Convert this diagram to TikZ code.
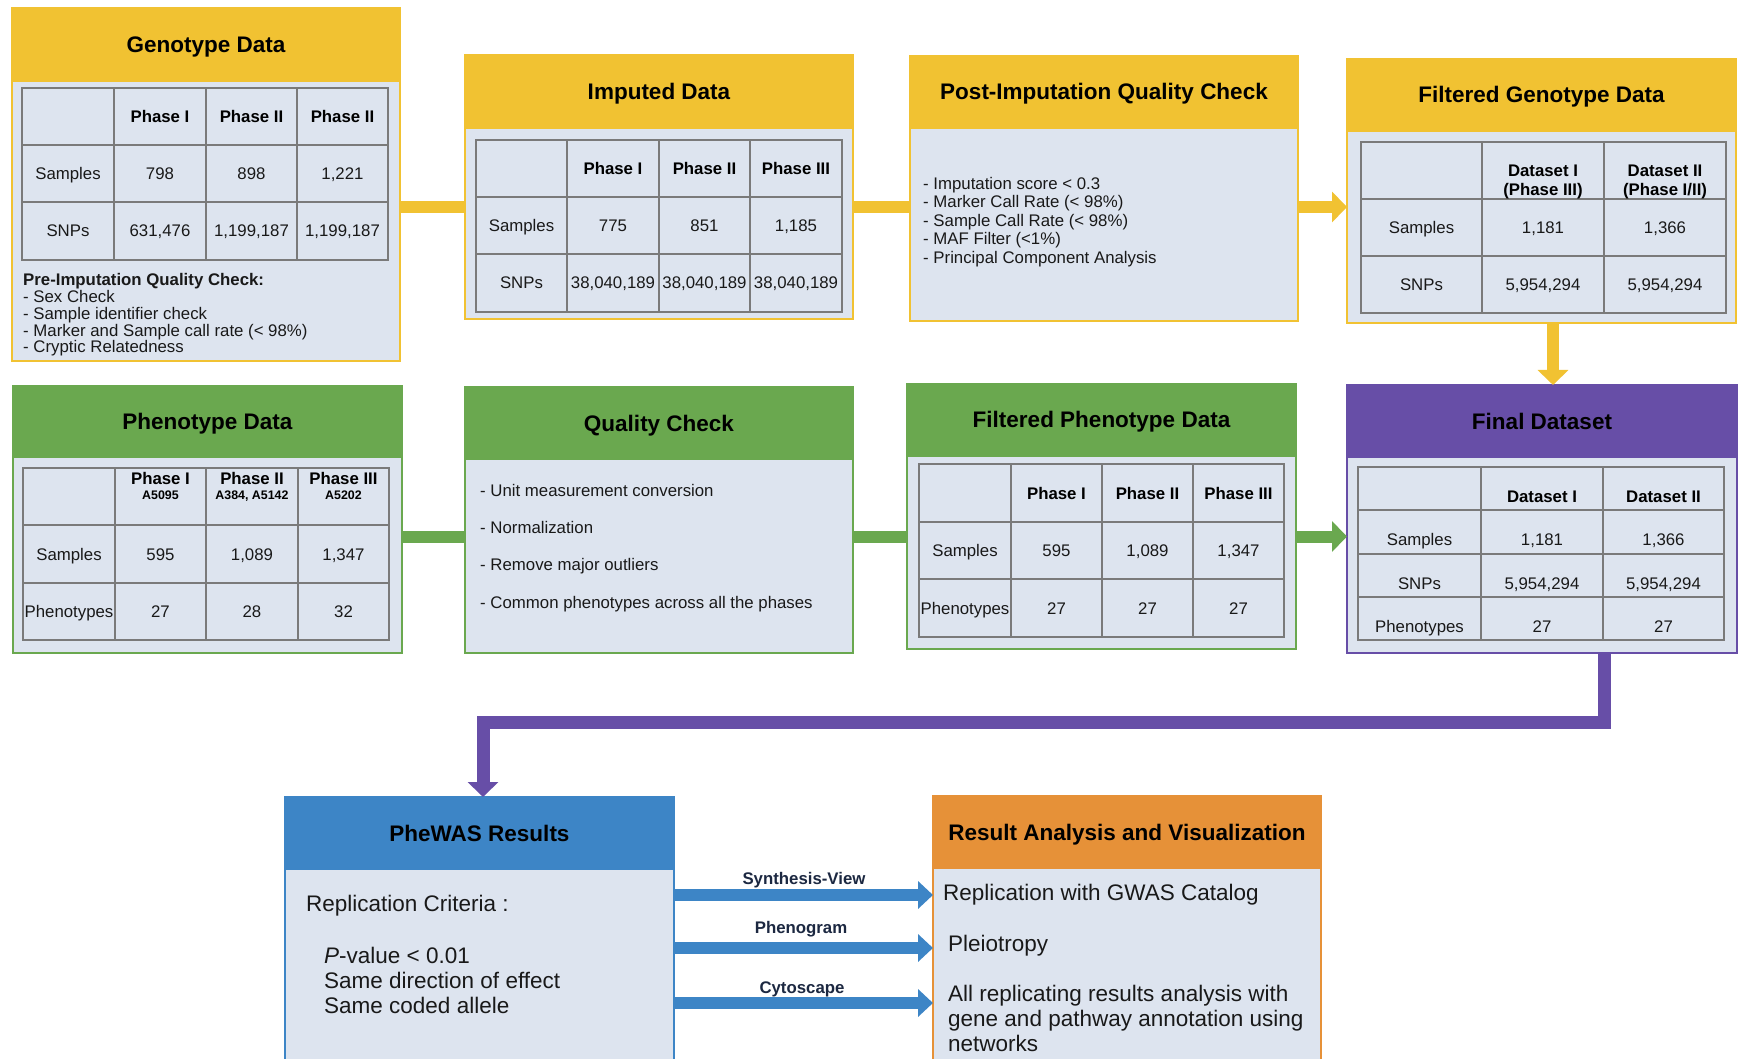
\documentclass[tikz,border=0pt]{standalone}
\usepackage{fontspec}
\setmainfont{Liberation Sans}
\usetikzlibrary{arrows.meta}

\definecolor{yel}{HTML}{F1C232}
\definecolor{grn}{HTML}{6AA84F}
\definecolor{pur}{HTML}{674EA7}
\definecolor{blu}{HTML}{3D85C6}
\definecolor{org}{HTML}{E69138}
\definecolor{bodyfill}{HTML}{DDE4EF}
\definecolor{gridc}{HTML}{7A7A7A}
\definecolor{navy}{HTML}{1C2841}

\tikzset{
  panelbody/.style={rectangle, fill=bodyfill, line width=2.5pt, inner sep=0pt, outer sep=0pt},
  panelhead/.style={rectangle, line width=2.5pt, inner sep=0pt, outer sep=0pt,
    font=\fontsize{22.5}{24}\selectfont\bfseries, text=black, text height=16pt, text depth=0pt},
  gridline/.style={draw=gridc, line width=1.3pt},
  cell/.style={inner sep=0pt, font=\fontsize{16.8}{18}\selectfont, text=black!90,
    text height=12pt, text depth=0pt},
  cellb/.style={cell, font=\fontsize{16.8}{18}\selectfont\bfseries, text=black},
  subcell/.style={inner sep=0pt, font=\fontsize{12.4}{13}\selectfont\bfseries, text=black,
    text height=9pt, text depth=0pt},
  note/.style={inner sep=0pt, anchor=base west, font=\fontsize{16.8}{18}\selectfont, text=black!90},
  bignote/.style={note, font=\fontsize{22.5}{25}\selectfont},
  tag/.style={inner sep=0pt, font=\fontsize{16.8}{18}\selectfont\bfseries, text=navy,
    text height=12pt, text depth=0pt},
  link/.style={line width=12pt, line join=miter},
  arrowtip/.style={-{Triangle[width=30pt,length=15pt]}},
  arrowtipsm/.style={-{Triangle[width=27pt,length=15pt]}},
}

% panel with a coloured title band: name, colour, x, y, width, height, band height, title
\newcommand\mkpanel[8]{%
  \node[panelbody, draw=#2, minimum width=#5pt, minimum height=#6pt, anchor=north west] (#1) at (#3,#4) {};
  \node[panelhead, draw=#2, fill=#2, minimum width=#5pt, minimum height=#7pt, anchor=north west] (#1-head) at (#1.north west) {#8};
}

% table rules: x0, x1, y0, y1, inner columns, inner rows
\newcommand\mkgrid[6]{%
  \draw[gridline] (#1,#3) rectangle (#2,#4);
  \foreach \gx in {#5} \draw[gridline] (\gx,#3) -- (\gx,#4);
  \foreach \gy in {#6} \draw[gridline] (#1,\gy) -- (#2,\gy);
}

\begin{document}
\begin{tikzpicture}[x=1pt,y=-1pt]
\useasboundingbox (0,0) rectangle (1741,1059);
\fill[white] (0,0) rectangle (1741,1059);
\clip (0,0) rectangle (1741,1059);

% ---------- panels ----------
\mkpanel{geno}{yel}{12}{8}{388}{353}{73}{Genotype Data}
\mkpanel{imp}{yel}{465}{55}{388}{264}{73}{Imputed Data}
\mkpanel{post}{yel}{910}{56}{388}{265}{72}{Post-Imputation Quality Check}
\mkpanel{fgeno}{yel}{1347}{59}{389}{264}{72}{Filtered Genotype Data}
\mkpanel{pheno}{grn}{13}{386}{389}{267}{71}{Phenotype Data}
\mkpanel{qc}{grn}{465}{387}{388}{266}{72}{Quality Check}
\mkpanel{fpheno}{grn}{907}{384}{389}{265}{72}{Filtered Phenotype Data}
\mkpanel{final}{pur}{1347}{385}{390}{268}{72}{Final Dataset}
\mkpanel{phewas}{blu}{285}{797}{389}{290}{72}{PheWAS Results}
\mkpanel{result}{org}{933}{796}{388}{290}{72}{Result Analysis and Visualization}

% ---------- genotype table ----------
\mkgrid{22}{388}{88}{260}{114,206,297}{145,202}
\foreach \x/\t [count=\i] in {160/Phase I, 251.5/Phase II, 342.5/Phase II}
  \node[cellb] (geno-h\i) at (\x,116.5) {\t};
\foreach \x/\t [count=\i] in {68/Samples, 160/798, 251.5/898, 342.5/{1,221}}
  \node[cell] (geno-s\i) at (\x,173.5) {\t};
\foreach \x/\t [count=\i] in {68/SNPs, 160/{631,476}, 251.5/{1,199,187}, 342.5/{1,199,187}}
  \node[cell] (geno-n\i) at (\x,231) {\t};
\foreach \t [count=\i from 0] in {{\bfseries Pre-Imputation Quality Check:}, - Sex Check,
    - Sample identifier check, - Marker and Sample call rate (< 98\%), - Cryptic Relatedness}
  \node[note] (preqc\i) at (23,286+16.7*\i) {\t};

% ---------- imputed table ----------
\mkgrid{476}{842}{140}{312}{567,659,750}{197,254}
\foreach \x/\t [count=\i] in {613/Phase I, 704.5/Phase II, 796/Phase III}
  \node[cellb] (imp-h\i) at (\x,168.5) {\t};
\foreach \x/\t [count=\i] in {521.5/Samples, 613/775, 704.5/851, 796/{1,185}}
  \node[cell] (imp-s\i) at (\x,225.5) {\t};
\foreach \x/\t [count=\i] in {521.5/SNPs, 613/{38,040,189}, 704.5/{38,040,189}, 796/{38,040,189}}
  \node[cell] (imp-n\i) at (\x,283) {\t};

% ---------- post-imputation checks ----------
\foreach \t [count=\i from 0] in {- Imputation score < 0.3, - Marker Call Rate (< 98\%),
    - Sample Call Rate (< 98\%), - MAF Filter (<1\%), - Principal Component Analysis}
  \node[note] (postqc\i) at (923,189.3+18.5*\i) {\t};

% ---------- filtered genotype table ----------
\mkgrid{1361}{1726}{142}{313}{1482,1604}{199,256}
\node[cellb] (fgeno-h1a) at (1543,171) {Dataset I};
\node[cellb] (fgeno-h1b) at (1543,190) {(Phase III)};
\node[cellb] (fgeno-h2a) at (1665,171) {Dataset II};
\node[cellb] (fgeno-h2b) at (1665,190) {(Phase I/II)};
\foreach \x/\t [count=\i] in {1421.5/Samples, 1543/{1,181}, 1665/{1,366}}
  \node[cell] (fgeno-s\i) at (\x,227.5) {\t};
\foreach \x/\t [count=\i] in {1421.5/SNPs, 1543/{5,954,294}, 1665/{5,954,294}}
  \node[cell] (fgeno-n\i) at (\x,284.5) {\t};

% ---------- phenotype table ----------
\mkgrid{23}{389}{468}{640}{115,206,298}{525,583}
\foreach \x/\t [count=\i] in {160.5/Phase I, 252/Phase II, 343.5/Phase III}
  \node[cellb] (pheno-h\i) at (\x,478) {\t};
\foreach \x/\t [count=\i] in {160.5/A5095, 252/{A384, A5142}, 343.5/A5202}
  \node[subcell] (pheno-c\i) at (\x,495) {\t};
\foreach \x/\t [count=\i] in {69/Samples, 160.5/595, 252/{1,089}, 343.5/{1,347}}
  \node[cell] (pheno-s\i) at (\x,554) {\t};
\foreach \x/\t [count=\i] in {69/Phenotypes, 160.5/27, 252/28, 343.5/32}
  \node[cell] (pheno-p\i) at (\x,611.5) {\t};

% ---------- phenotype quality check ----------
\foreach \t [count=\i from 0] in {- Unit measurement conversion, - Normalization,
    - Remove major outliers, - Common phenotypes across all the phases}
  \node[note] (phqc\i) at (480,496+37.4*\i) {\t};

% ---------- filtered phenotype table ----------
\mkgrid{919}{1284}{464}{637}{1011,1102,1193}{522,579}
\foreach \x/\t [count=\i] in {1056.5/Phase I, 1147.5/Phase II, 1238.5/Phase III}
  \node[cellb] (fpheno-h\i) at (\x,493) {\t};
\foreach \x/\t [count=\i] in {965/Samples, 1056.5/595, 1147.5/{1,089}, 1238.5/{1,347}}
  \node[cell] (fpheno-s\i) at (\x,550.5) {\t};
\foreach \x/\t [count=\i] in {965/Phenotypes, 1056.5/27, 1147.5/27, 1238.5/27}
  \node[cell] (fpheno-p\i) at (\x,608) {\t};

% ---------- final dataset table ----------
\mkgrid{1358}{1724}{467}{640}{1481,1603}{510,554,597}
\foreach \x/\t [count=\i] in {1542/Dataset I, 1663.5/Dataset II}
  \node[cellb] (final-h\i) at (\x,496) {\t};
\foreach \x/\t [count=\i] in {1419.5/Samples, 1542/{1,181}, 1663.5/{1,366}}
  \node[cell] (final-s\i) at (\x,539) {\t};
\foreach \x/\t [count=\i] in {1419.5/SNPs, 1542/{5,954,294}, 1663.5/{5,954,294}}
  \node[cell] (final-n\i) at (\x,583) {\t};
\foreach \x/\t [count=\i] in {1419.5/Phenotypes, 1542/27, 1663.5/27}
  \node[cell] (final-p\i) at (\x,626) {\t};

% ---------- PheWAS results ----------
\node[bignote] (crit0) at (306,911) {Replication Criteria :};
\node[bignote] (crit1) at (324,963) {\textit{P}-value < 0.01};
\node[bignote] (crit2) at (324,988) {Same direction of effect};
\node[bignote] (crit3) at (324,1013) {Same coded allele};

% ---------- result analysis ----------
\node[bignote] (ra1) at (943,900) {Replication with GWAS Catalog};
\node[bignote] (ra2) at (948,951) {Pleiotropy};
\node[bignote] (ra3) at (948,1001) {All replicating results analysis with};
\node[bignote] (ra4) at (948,1026) {gene and pathway annotation using};
\node[bignote] (ra5) at (948,1051) {networks};

% ---------- connectors ----------
\coordinate (row1) at (0,207);
\coordinate (row2) at (0,536.5);
\coordinate (col1) at (1553,0);
\draw[link, yel] (geno.east |- row1) -- (imp.west |- row1);
\draw[link, yel] (imp.east |- row1) -- (post.west |- row1);
\draw[link, yel, arrowtip] (post.east |- row1) -- (fgeno.west |- row1);
\draw[link, yel, arrowtip] (fgeno.south -| col1) -- (final.north -| col1);
\draw[link, grn] (pheno.east |- row2) -- (qc.west |- row2);
\draw[link, grn] (qc.east |- row2) -- (fpheno.west |- row2);
\draw[link, grn, arrowtip] (fpheno.east |- row2) -- (final.west |- row2);

\coordinate (bendR) at (1604,722);
\coordinate (bendL) at (483,722);
\draw[link, pur, line width=13pt, arrowtip] (final.south -| bendR) -- (bendR) -- (bendL) -- (phewas.north -| bendL);

\coordinate (tool1) at (0,895);
\coordinate (tool2) at (0,948);
\coordinate (tool3) at (0,1003);
\draw[link, blu, arrowtipsm] (phewas.east |- tool1) -- (result.west |- tool1);
\draw[link, blu, arrowtipsm] (phewas.east |- tool2) -- (result.west |- tool2);
\draw[link, blu, arrowtipsm] (phewas.east |- tool3) -- (result.west |- tool3);
\node[tag] (lab1) at (804,878) {Synthesis-View};
\node[tag] (lab2) at (801,927) {Phenogram};
\node[tag] (lab3) at (802,987) {Cytoscape};
\end{tikzpicture}
\end{document}
